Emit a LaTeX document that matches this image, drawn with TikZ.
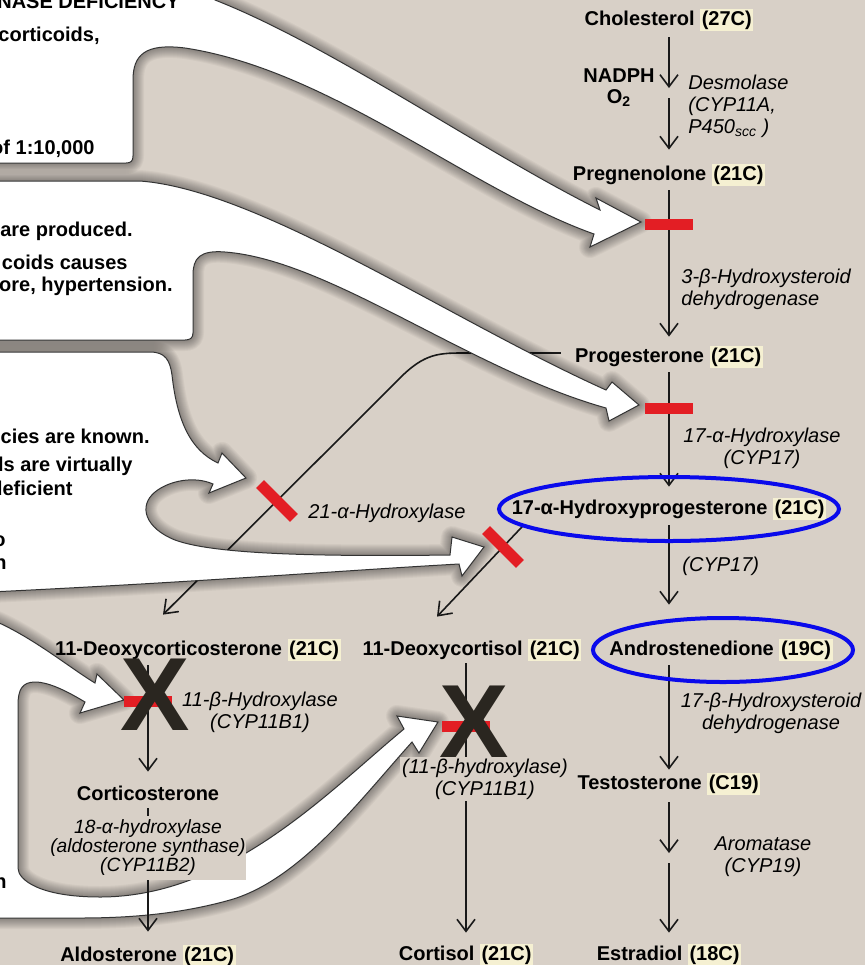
\documentclass[tikz,border=0pt]{standalone}
\usepackage{fontspec}
\setmainfont{Liberation Sans}
\usetikzlibrary{arrows.meta,positioning}
\pgfdeclarelayer{back}
\pgfsetlayers{back,main}
\definecolor{paper}{RGB}{216,208,199}
\definecolor{hilite}{RGB}{245,240,210}
\definecolor{blockred}{RGB}{227,30,36}
\definecolor{ringblue}{RGB}{10,10,235}
\definecolor{crossdark}{RGB}{42,38,32}
\newcommand{\cnum}[1]{{\setlength{\fboxsep}{0.8pt}\colorbox{hilite}{#1}}}
\newcommand{\noteA}{(-10,-10) -- (212,-10) -- (215,0) .. controls (330,45) and (480,150) .. (600,210) -- (596,198) -- (641,222) -- (590,247) -- (594,234) .. controls (470,190) and (330,70) .. (185,48) .. controls (145,43) and (133,55) .. (133,80) -- (133,156) .. controls (133,161) and (131,163) .. (126,163) -- (-10,163) -- cycle}
\newcommand{\noteB}{(-10,181) -- (140,181) .. controls (260,190) and (450,320) .. (606,390) -- (612,382) -- (639,405) -- (609,421) -- (606,408) .. controls (470,370) and (330,260) .. (225,252) .. controls (200,250) and (193,258) .. (193,275) -- (193,333) .. controls (193,338) and (190,340) .. (185,340) -- (-10,340) -- cycle}
\newcommand{\noteC}{(-10,352) -- (150,352) .. controls (165,352) and (170,360) .. (172,375) .. controls (177,420) and (190,450) .. (218,463) -- (222,453) -- (246,478) -- (209,493) -- (213,484) .. controls (195,476) and (170,480) .. (155,492) .. controls (138,506) and (145,528) .. (175,540) .. controls (210,553) and (300,557) .. (450,555) -- (452,537) -- (484,547) -- (462,576) -- (459,564) .. controls (350,570) and (200,582) .. (-10,592) -- cycle}
\newcommand{\noteD}{(-10,619) .. controls (30,635) and (70,668) .. (95,683) -- (97,674) -- (124,700) -- (80,713) -- (85,702) .. controls (70,693) and (50,682) .. (35,682) .. controls (22,682) and (18,690) .. (18,705) -- (18,868) .. controls (18,880) and (40,897) .. (100,897) .. controls (230,897) and (330,790) .. (404,729) -- (397,716) -- (438,722) -- (419,753) -- (412,742) .. controls (360,800) and (300,880) .. (230,900) .. controls (180,914) and (130,918) .. (80,918) -- (-10,918) -- cycle}

\begin{document}
\begin{tikzpicture}[x=0.5pt,y=-0.5pt,>={Straight Barb[length=6pt,width=9pt]},
  chem/.style={font=\fontsize{10}{11}\selectfont\bfseries, inner sep=1pt, text height=8pt, text depth=3pt},
  cofactor/.style={font=\fontsize{10}{10.5}\selectfont\bfseries, align=center, inner sep=0pt},
  enzyme/.style={font=\fontsize{10}{11}\selectfont\itshape, align=center, inner sep=0pt},
  cut/.style={font=\fontsize{10}{11}\selectfont\bfseries, inner sep=0pt, anchor=east},
  flow/.style={->, line width=0.8pt, black!90, shorten >=4.5pt, shorten <=1pt},
  stopbar/.style={fill=blockred, minimum width=24pt, minimum height=5.5pt, inner sep=0pt},
  ring/.style={draw=ringblue, line width=2pt},
  cross/.style={font=\fontsize{52}{52}\selectfont\bfseries, text=crossdark, inner sep=0pt},
  note/.style={fill=white, draw=black!80, line width=0.5pt}]
  \useasboundingbox (0,0) rectangle (865,965);

  \node[chem] (chol) at (669,20) {Cholesterol \cnum{(27C)}};
  \node[chem] (preg) at (669,175) {Pregnenolone \cnum{(21C)}};
  \node[chem] (prog) at (669,357) {Progesterone \cnum{(21C)}};
  \node[chem] (ohprog) at (669,509) {17-α-Hydroxyprogesterone \cnum{(21C)}};
  \node[chem] (andro) at (721,650) {Androstenedione \cnum{(19C)}};
  \node[chem] (testo) at (669,784) {Testosterone \cnum{(C19)}};
  \node[chem] (estra) at (669,955) {Estradiol \cnum{(18C)}};
  \node[chem] (doc) at (198,650) {11-Deoxycorticosterone \cnum{(21C)}};
  \node[chem] (cortico) at (148,795) {Corticosterone};
  \node[chem] (aldo) at (148,956) {Aldosterone \cnum{(21C)}};
  \node[chem] (deoxycort) at (472,650) {11-Deoxycortisol \cnum{(21C)}};
  \node[chem] (cortisol) at (466,955) {Cortisol \cnum{(21C)}};

  \begin{pgfonlayer}{back}
    \fill[paper] (0,0) rectangle (865,965);
    \clip (0,0) rectangle (865,965);
    \draw[flow, shorten <=6pt, shorten >=0pt] ([yshift=2pt]prog.west) -- (468,353)
      .. controls (440,353) and (425,352) .. (398,380) -- ([shift={(-17.5pt,11pt)}]doc.north);
    \foreach \shp in {\noteA,\noteB,\noteC,\noteD}
      \foreach \w in {11,10,...,1}
        \draw[line width=\w pt, black, opacity=0.035, line join=round] \shp;
    \foreach \shp in {\noteA,\noteB,\noteC,\noteD}
      \filldraw[note] \shp;
  \end{pgfonlayer}

  \node[cut, anchor=base east] (defic) at (180,8) {NASE DEFICIENCY};
  \node[cut] (cortic) at (100,36) {corticoids,};
  \node[cut] (ratio) at (95,149) {of 1:10,000};
  \node[cut] (produced) at (133,231) {are produced.};
  \node[cut] (causes) at (128,262) {coids causes};
  \node[cut] (hyper) at (173,286) {ore, hypertension.};
  \node[cut] (known) at (150,436) {cies are known.};
  \node[cut] (virtual) at (133,466) {ls are virtually};
  \node[cut] (deficient) at (73,488) {deficient};
  \node[cut] (lineo) at (6,541) {o};
  \node[cut] (linen) at (7,564) {n};
  \node[cut] (lineh) at (7,881) {h};

  \coordinate (cholmid) at (669,88);
  \coordinate (aromid) at (669,853);
  \draw[flow, shorten <=2pt, shorten >=0pt] (chol.south) -- (cholmid);
  \draw[flow, shorten <=0pt, shorten >=6pt] ([yshift=-5pt]cholmid) -- (preg.north);
  \draw[flow, shorten >=3.5pt] (preg.south) -- (prog.north);
  \draw[flow] (prog.south) -- (ohprog.north);
  \draw[flow, shorten <=1.5pt, shorten >=16pt] (ohprog.south) -- (ohprog.south |- andro.north);
  \draw[flow, shorten >=0.5pt] (andro.south -| testo.north) -- (testo.north);
  \draw[flow, shorten <=2.5pt, shorten >=0pt] (testo.south) -- (aromid);
  \draw[flow, shorten <=0pt] ([yshift=-5pt]aromid) -- (estra.north);
  \draw[flow, shorten >=0pt, shorten <=0pt] ([shift={(7pt,-1.5pt)}]ohprog.south west) -- ([shift={(-17.5pt,10pt)}]deoxycort.north);
  \draw[flow, shorten >=5pt] (doc.south -| cortico.north) -- (cortico.north);
  \draw[flow, shorten <=0pt, shorten >=5.5pt] (cortico.south) -- (aldo.north);
  \draw[flow, shorten <=0pt] (deoxycort.south -| cortisol.north) -- (cortisol.north);

  \node[cofactor] (nadph) at (619,88) {NADPH\\O\textsubscript{2}};
  \node[enzyme, anchor=west, align=left] (desmo) at (688,106) {Desmolase\\(CYP11A,\\P450\textsubscript{scc} )};
  \node[enzyme, anchor=west, align=left] (hsd3b) at (681,289) {3-β-Hydroxysteroid\\dehydrogenase};
  \node[enzyme] (cyp17a) at (762,448) {17-α-Hydroxylase\\(CYP17)};
  \node[enzyme, anchor=west] (cyp17b) at (682,566) {(CYP17)};
  \node[enzyme] (cyp21) at (387,513) {21-α-Hydroxylase};
  \node[enzyme] (cyp11doc) at (260,712) {11-β-Hydroxylase\\(CYP11B1)};
  \node[enzyme, fill=paper, inner sep=1pt] (cyp11cort) at (485,779) {(11-β-hydroxylase)\\(CYP11B1)};
  \node[enzyme, fill=paper, inner xsep=0pt, inner ysep=2pt, font=\fontsize{9.6}{9.5}\selectfont\itshape] (cyp11b2) at (148,848) {18-α-hydroxylase\\(aldosterone synthase)\\(CYP11B2)};
  \node[enzyme] (hsd17b) at (771,713) {17-β-Hydroxysteroid\\dehydrogenase};
  \node[enzyme] (arom) at (763,857) {Aromatase\\(CYP19)};

  \node[stopbar] (barpreg) at (669,224) {};
  \node[stopbar] (barprog) at (669,408) {};
  \node[stopbar, rotate=-45] (bar21a) at (277,501) {};
  \node[stopbar, rotate=-45] (bar21b) at (503,547) {};
  \node[stopbar] (bar11a) at (148,701) {};
  \node[stopbar] (bar11b) at (466,726) {};

  \node[cross] (xdoc) at (155,695) {X};
  \node[cross] (xcort) at (474,722) {X};

  \draw[ring] (ohprog.center) ellipse [x radius=85pt, y radius=16pt];
  \draw[ring] ([xshift=1pt]andro.center) ellipse [x radius=65pt, y radius=16pt];
\end{tikzpicture}
\end{document}
